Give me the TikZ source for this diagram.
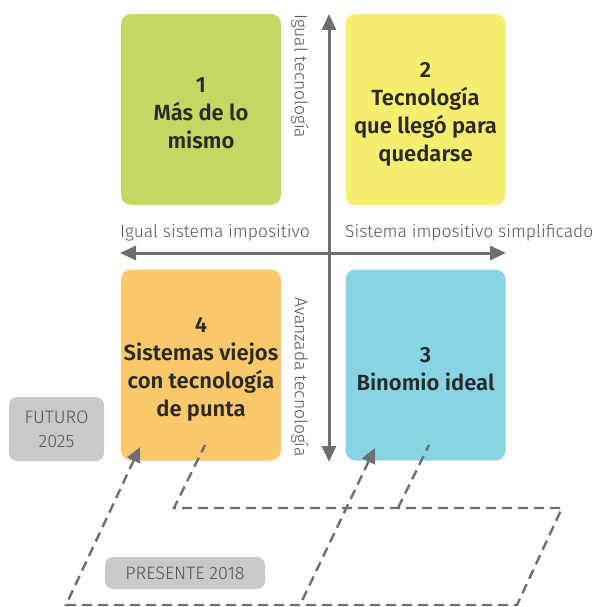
\documentclass[tikz,border=0pt]{standalone}
\usepackage{fontspec}
\setmainfont{Fira Sans}
\newfontfamily\lightfont{Fira Sans Light}
\newfontfamily\semifont{Fira Sans SemiBold}
\usepackage{xcolor}
\usepackage{tikz}
\usetikzlibrary{arrows.meta,positioning}
\definecolor{qgreen}{HTML}{C5D863}
\definecolor{qyellow}{HTML}{F5EE6E}
\definecolor{qorange}{HTML}{FCC96A}
\definecolor{qblue}{HTML}{88D4E4}
\definecolor{tagbg}{HTML}{C8C9CB}
\definecolor{axisgray}{HTML}{6D6E70}
\definecolor{txtdark}{HTML}{2A2A2A}
\definecolor{txtgray}{HTML}{555555}
\tikzset{
quad/.style={rectangle,rounded corners=10pt,
minimum width=160pt,minimum height=191pt,inner sep=0pt},
qtext/.style={align=center,inner sep=0pt,
font=\semifont\fontsize{22}{28}\selectfont,text=txtdark},
tag/.style={rectangle,rounded corners=8pt,fill=tagbg,
align=center,font=\lightfont\fontsize{18}{24}\selectfont,text=txtgray},
axis/.style={draw=axisgray,line width=3pt,
{Triangle[length=16pt,width=14pt]}-{Triangle[length=16pt,width=14pt]}},
axlabel/.style={font=\lightfont\fontsize{17.5}{20}\selectfont,text=txtgray,inner sep=0pt},
path/.style={draw=axisgray,line width=2.4pt,dash pattern=on 10pt off 6pt}
}
\begin{document}
\begin{tikzpicture}[x=1pt,y=-1pt]
\useasboundingbox (0,0) rectangle (598,607);

% quadrants
\node[quad,fill=qgreen] (q1) at (201,109.5) {};
\node[quad,fill=qyellow] (q2) at (425.5,109.5) {};
\node[quad,fill=qorange] (q4) at (201,365) {};
\node[quad,fill=qblue] (q3) at (425.5,365) {};
\node[qtext] (t1) at ([yshift=-4pt]q1.center) {1\\M\'as de lo\\mismo};
\node[qtext] (t2) at ([yshift=-5pt]q2.center) {2\\Tecnolog\'ia\\que lleg\'o para\\quedarse};
\node[qtext] (t4) at ([yshift=-4pt]q4.center) {4\\Sistemas viejos\\con tecnolog\'ia\\de punta};
\node[qtext] (t3) at ([yshift=-4pt]q3.center) {3\\Binomio ideal};

% axes
\coordinate (top) at (329,14);
\coordinate (bottom) at (329,462);
\coordinate (left) at (120,253);
\coordinate (right) at (506,253);
\draw[axis] (bottom) -- (top);
\draw[axis] (left) -- (right);

\node[axlabel,anchor=base west] (lx1) at (120,237) {Igual sistema impositivo};
\node[axlabel,anchor=base west] (lx2) at (345,237) {Sistema impositivo simplificado};
\node[axlabel,anchor=west,rotate=-90] (ly1) at (300,14) {Igual tecnolog\'ia};
\node[axlabel,anchor=west,rotate=-90] (ly2) at (300,297) {Avanzada tecnolog\'ia};

% time tags
\node[tag,minimum width=95pt,minimum height=64pt] (futuro) at (56.5,429) {FUTURO\\2025};
\node[tag,minimum width=160pt,minimum height=32pt] (presente) at (185,573) {PRESENTE 2018};

% dashed planes
\coordinate (a1) at (140,447);
\coordinate (a2) at (66,605);
\coordinate (a3) at (517,605);
\coordinate (a4) at (562,508);
\coordinate (a5) at (174,508);
\coordinate (a6) at (205,445);
\coordinate (b1) at (375,448);
\coordinate (b2) at (300,605);
\coordinate (c1) at (398,508);
\coordinate (c2) at (429,445);
\draw[path,{Triangle[length=15pt,width=14pt]}-] (a1) -- (a2) -- (a3) -- (a4) -- (a5) -- (a6);
\draw[path,{Triangle[length=15pt,width=14pt]}-] (b1) -- (b2);
\draw[path] (c1) -- (c2);

\end{tikzpicture}
\end{document}
